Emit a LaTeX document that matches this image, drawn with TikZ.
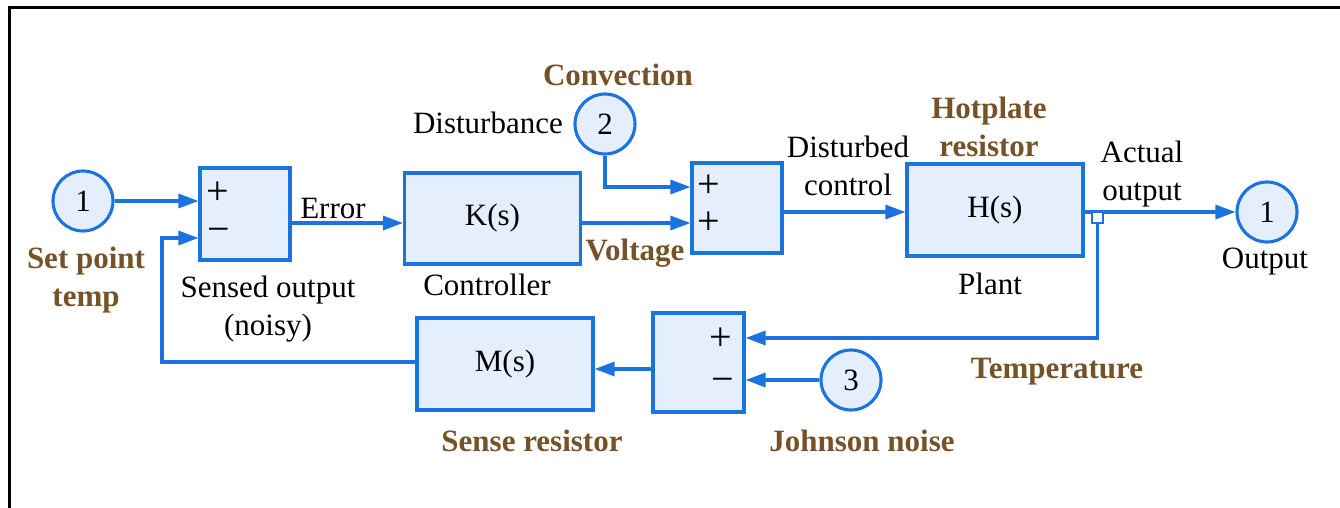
\documentclass[tikz,border=0pt]{standalone}
\usepackage{fontspec}
\setmainfont{Liberation Serif}
\usepackage{tikz}
\usetikzlibrary{arrows.meta,positioning,calc}
\definecolor{lineblue}{RGB}{26,115,222}
\definecolor{paleblue}{RGB}{228,238,252}
\definecolor{labelbrown}{RGB}{117,82,40}

\begin{document}
\begin{tikzpicture}[x=1pt, y=1pt, font=\fontsize{31}{38}\selectfont,
  blk/.style={draw=lineblue, fill=paleblue, line width=3.1pt, minimum width=176pt, minimum height=92pt, inner sep=0pt},
  sumbox/.style={draw=lineblue, fill=paleblue, line width=3.1pt, minimum width=90pt, minimum height=92pt, inner sep=0pt},
  src/.style={circle, draw=lineblue, fill=paleblue, line width=3.1pt, minimum size=60pt, inner sep=0pt},
  tag/.style={align=center, inner sep=0pt},
  sgn/.style={inner sep=0pt, font=\fontsize{40}{40}\selectfont},
  lbl/.style={tag, text=labelbrown, font=\fontsize{31}{38}\selectfont\bfseries},
  arr/.style={-{Triangle[length=20pt, width=14pt]}, draw=lineblue, line width=3.1pt},
  wire/.style={draw=lineblue, line width=3.1pt}]
\useasboundingbox (0,0) rectangle (1340,507);
\draw[line width=3pt] (9,-2) -- (9,499) -- (1342,499);

% forward path
\node[src] (in1) at (83,306) {1};
\node[sumbox] (sum1) at (245,293) {};
\node[sgn] (p1) at (218,314) {+};
\node[sgn] (m1) at (219,272) {−};
\node[blk, minimum height=91pt] (ctrl) at (492.5,288.5) {K(s)};
\node[src] (in2) at (605,383) {2};
\node[sumbox, minimum height=90pt] (sum2) at (737,299) {};
\node[sgn] (p2a) at (709,321) {+};
\node[sgn] (p2b) at (709,284) {+};
\node[blk] (plant) at (995,297) {H(s)};
\node[src] (out1) at (1267,295) {1};

% feedback path
\node[sumbox, minimum width=91pt, minimum height=99pt] (sum3) at (698.5,144.5) {};
\node[sgn] (p3) at (721,168) {+};
\node[sgn] (m3) at (723,122) {−};
\node[blk] (sens) at (505,143) {M(s)};
\node[src] (in3) at (851,127) {3};

\coordinate (err) at ([yshift=-9pt]sum1.east);
\coordinate (volt) at ([yshift=-4.5pt]ctrl.east);
\coordinate (noisy) at ([yshift=-6.5pt]sum3.west);
\coordinate (fb) at (162,269);

\draw[arr] (in1) -- (sum1.west |- in1);
\draw[arr] (err) -- (err -| ctrl.west);
\draw[arr] (volt) -- (volt -| sum2.west);
\draw[arr] (in2) |- (sum2.west |- 0,320);
\draw[arr] (sum2.east |- 0,295) -- (plant.west |- 0,295);
\draw[arr] (plant.east |- out1) -- (out1);
\draw[arr] (1097.5,290) |- (sum3.east |- 0,169);
\node[draw=lineblue, fill=white, line width=2.2pt, minimum size=11pt, inner sep=0pt] (tap) at (1097.5,289.5) {};
\draw[arr] (in3) -- (sum3.east |- in3);
\draw[arr] (noisy) -- (noisy -| sens.east);
\draw[arr] (sens.west |- 0,145) -| (fb) -- (fb -| sum1.west);

% labels
\node[lbl] (setpt) at (86,227) {Set point\\temp};
\node[tag] (sensed) at (268,198) {Sensed output\\(noisy)};
\node[tag] (errlbl) at (333,298) {Error};
\node[tag] (ctrllbl) at (487,222) {Controller};
\node[tag, anchor=east] (distlbl) at (563,384) {Disturbance};
\node[lbl] (convlbl) at (618,432) {Convection};
\node[lbl] (voltlbl) at (635,254) {Voltage};
\node[tag] (dclbl) at (848,341) {Disturbed\\control};
\node[lbl] (hotlbl) at (989,380) {Hotplate\\resistor};
\node[tag] (plantlbl) at (990,223) {Plant};
\node[tag] (actlbl) at (1142,333) {Actual\\output};
\node[tag] (outlbl) at (1265,245) {Output};
\node[lbl] (templbl) at (1057,135) {Temperature};
\node[lbl] (jnlbl) at (862,66) {Johnson noise};
\node[lbl] (senslbl) at (532,66) {Sense resistor};
\end{tikzpicture}
\end{document}
